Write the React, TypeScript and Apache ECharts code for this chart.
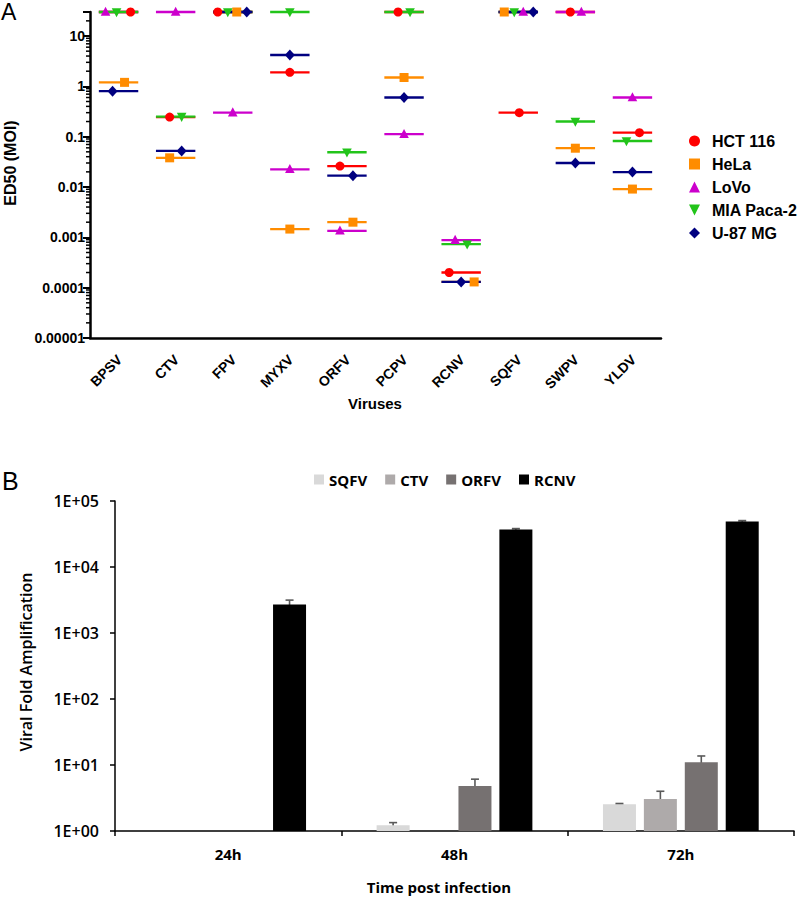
import React, { useEffect, useRef } from "react";
import * as echarts from "echarts";

// ---------- Panel A data ----------
const viruses = ["BPSV", "CTV", "FPV", "MYXV", "ORFV", "PCPV", "RCNV", "SQFV", "SWPV", "YLDV"];
const cellLines = ["HCT 116", "HeLa", "LoVo", "MIA Paca-2", "U-87 MG"];
const hct116 = [30, 0.245, 30, 1.9, 0.026, 30, 0.0002, 0.3, 30, 0.12];
const hela = [1.2, 0.038, 30, 0.00146, 0.002, 1.5, 0.00013, 30, 0.059, 0.0091];
const lovo = [30, 30, 0.3, 0.0225, 0.00135, 0.112, 0.00088, 30, 30, 0.6];
const miaPaca2 = [30, 0.25, 30, 30, 0.049, 30, 0.00073, 30, 0.2, 0.082];
const u87mg = [0.8, 0.052, 30, 4.2, 0.0168, 0.6, 0.00013, 30, 0.03, 0.0198];
const yTickLabelsA = ["0.00001", "0.0001", "0.001", "0.01", "0.1", "1", "10"];

// layout: horizontal jitter of markers (px) relative to category centre
const jitterA = [
  [12, -6, -15, 0, -7, -6, -12, 1, -5, 7],
  [6, -6, 4, 0, 6, 0, 13, -14, 0, 0],
  [-13, 0, 0, 0, -7, 0, -6, 5, 6, 0],
  [-2, 6, -5, 0, 0, 6, 6, -4, 0, -6],
  [-6, 6, 14, 0, 6, 0, 0, 15, 0, 0],
];

// ---------- Panel B data ----------
const timepoints = ["24h", "48h", "72h"];
const virusesB = ["SQFV", "CTV", "ORFV", "RCNV"];
const sqfv = [null, 1.22, 2.55];
const ctv = [null, null, 3.05];
const orfv = [null, 4.8, 11];
const rcnv = [2700, 37000, 49000];
const sqfvErr = [null, 0.12, 0.06];
const ctvErr = [null, null, 0.95];
const orfvErr = [null, 1.3, 2.7];
const rcnvErr = [450, 1200, 1500];
const yTickLabelsB = ["1E+00", "1E+01", "1E+02", "1E+03", "1E+04", "1E+05"];

const colorsA = ["#ff0000", "#ff8c00", "#cc00cc", "#22c41a", "#000080"];
const colorsB = ["#d9d9d9", "#aeaaaa", "#767171", "#000000"];
const fontA = "'Liberation Sans', Arial, sans-serif";
const fontB = "'Open Sans', sans-serif";
const BAR_W = 33;
const BAR_GAP_RATIO = 0.24;
const GRID_A = { left: 90, top: 12, width: 571, height: 326 };
const Y_MIN_A = 0.00001;
const Y_MAX_A = 30;

function markerShape(kind: number, x: number, y: number, color: string) {
  const s = 4.8;
  if (kind === 0) return { type: "circle", shape: { cx: x, cy: y, r: 4.5 }, style: { fill: color } };
  if (kind === 1) return { type: "rect", shape: { x: x - 4.5, y: y - 4.5, width: 9, height: 9 }, style: { fill: color } };
  if (kind === 2)
    return { type: "polygon", shape: { points: [[x, y - s - 0.5], [x + s, y + s - 1], [x - s, y + s - 1]] }, style: { fill: color } };
  if (kind === 3)
    return { type: "polygon", shape: { points: [[x - s, y - s + 1], [x + s, y - s + 1], [x, y + s + 0.5]] }, style: { fill: color } };
  return { type: "polygon", shape: { points: [[x, y - 5.5], [x + 5, y], [x, y + 5.5], [x - 5, y]] }, style: { fill: color } };
}

function logLabel(labels: string[], offset: number) {
  return (v: number) => {
    const e = Math.log10(v);
    const r = Math.round(e);
    if (Math.abs(e - r) > 1e-6) return "";
    return labels[r + offset] ?? "";
  };
}

export default function App() {
  const ref = useRef<HTMLDivElement>(null);
  const refLabels = useRef<HTMLDivElement>(null);
  useEffect(() => {
    document.body.style.margin = "0";
    if (!ref.current || !refLabels.current) return;
    const chart = echarts.init(ref.current, null, { renderer: "svg" });
    const seriesValuesA = [hct116, hela, lovo, miaPaca2, u87mg];
    const barValues = [sqfv, ctv, orfv, rcnv];
    const barErrs = [sqfvErr, ctvErr, orfvErr, rcnvErr];

    const minorTicks: number[][] = [];
    for (let e = -5; e <= 0; e++) {
      for (let m = 2; m <= 9; m++) minorTicks.push([0, Number((m * Math.pow(10, e)).toPrecision(3))]);
    }
    minorTicks.push([0, 20], [0, 30]);

    const lineSeries = cellLines.map((name, k) => ({
      type: "custom",
      name,
      xAxisIndex: 0,
      yAxisIndex: 0,
      clip: false,
      itemStyle: { color: colorsA[k] },
      data: viruses.map((_, i) => [i, seriesValuesA[k][i]]),
      encode: { x: 0, y: 1 },
      renderItem: (params: any, api: any) => {
        const c = api.coord([api.value(0), api.value(1)]);
        const band = params.coordSys.width / viruses.length;
        const half = band * 0.345;
        return {
          type: "line",
          shape: { x1: c[0] - half, y1: c[1], x2: c[0] + half, y2: c[1] },
          style: { stroke: colorsA[k], lineWidth: 2.3 },
        };
      },
    }));

    const markerSeries = cellLines.map((name, k) => ({
      type: "custom",
      name,
      xAxisIndex: 0,
      yAxisIndex: 0,
      clip: false,
      itemStyle: { color: colorsA[k] },
      data: viruses.map((_, i) => [i, seriesValuesA[k][i]]),
      encode: { x: 0, y: 1 },
      renderItem: (params: any, api: any) => {
        const i = api.value(0);
        const c = api.coord([i, api.value(1)]);
        return markerShape(k, c[0] + jitterA[k][i], c[1], colorsA[k]);
      },
    }));

    const minorTickSeries = {
      type: "custom",
      name: "minor",
      xAxisIndex: 0,
      yAxisIndex: 0,
      silent: true,
      clip: false,
      data: minorTicks,
      encode: { x: 0, y: 1 },
      renderItem: (params: any, api: any) => {
        const c = api.coord([0, api.value(1)]);
        const x = params.coordSys.x;
        return { type: "line", shape: { x1: x - 4, y1: c[1], x2: x, y2: c[1] }, style: { stroke: "#000", lineWidth: 1.5 } };
      },
    };

    const pitch = BAR_W * (1 + BAR_GAP_RATIO);
    const barSeries = virusesB.map((name, k) => ({
      type: "bar",
      name,
      xAxisIndex: 1,
      yAxisIndex: 1,
      barWidth: BAR_W,
      barGap: `${BAR_GAP_RATIO * 100}%`,
      itemStyle: { color: colorsB[k] },
      data: barValues[k],
    }));

    const errSeries = virusesB.map((name, k) => ({
      type: "custom",
      name: name + " err",
      xAxisIndex: 1,
      yAxisIndex: 1,
      silent: true,
      data: timepoints
        .map((_, i) => (barValues[k][i] == null ? null : [i, barValues[k][i], barErrs[k][i]]))
        .filter((d) => d !== null),
      encode: { x: 0, y: 1 },
      renderItem: (params: any, api: any) => {
        const i = api.value(0);
        const v = api.value(1);
        const err = api.value(2);
        const top = api.coord([i, v + err]);
        const bot = api.coord([i, Math.max(v - err, 1.0001)]);
        const x = top[0] + (k - 1.5) * pitch;
        const st = { stroke: "#595959", lineWidth: 1.6 };
        return {
          type: "group",
          children: [
            { type: "line", shape: { x1: x, y1: top[1], x2: x, y2: bot[1] }, style: st },
            { type: "line", shape: { x1: x - 4, y1: top[1], x2: x + 4, y2: top[1] }, style: st },
            { type: "line", shape: { x1: x - 4, y1: bot[1], x2: x + 4, y2: bot[1] }, style: st },
          ],
        };
      },
    }));

    const baseGraphic: any[] = [
      { type: "text", left: 1, top: 0, style: { text: "A", fontFamily: fontA, fontSize: 23, fill: "#000" } },
      { type: "text", left: 2, top: 468, style: { text: "B", fontFamily: fontA, fontSize: 25, fill: "#000" } },
      {
        type: "text",
        x: 10,
        y: 163,
        rotation: Math.PI / 2,
        style: { text: "ED50 (MOI)", fontFamily: fontA, fontWeight: "bold", fontSize: 16, fill: "#000", align: "center", verticalAlign: "middle" },
      },
      {
        type: "text",
        x: 375,
        y: 403,
        style: { text: "Viruses", fontFamily: fontA, fontWeight: "bold", fontSize: 15, fill: "#000", align: "center", verticalAlign: "middle" },
      },
      {
        type: "text",
        x: 26,
        y: 662,
        rotation: Math.PI / 2,
        style: { text: "Viral Fold Amplification", fontFamily: fontB, fontWeight: 600, fontSize: 16, fill: "#000", align: "center", verticalAlign: "middle" },
      },
      {
        type: "text",
        x: 439,
        y: 887,
        style: { text: "Time post infection", fontFamily: fontB, fontWeight: "bold", fontSize: 15, fill: "#000", align: "center", verticalAlign: "middle" },
      },
    ];

    const option: any = {
      animation: false,
      grid: [GRID_A, { left: 115, top: 501, width: 679, height: 330 }],
      xAxis: [
        {
          type: "category",
          gridIndex: 0,
          data: viruses,
          boundaryGap: true,
          axisLine: { lineStyle: { color: "#000", width: 2.5 } },
          axisTick: { alignWithLabel: true, length: 6, lineStyle: { color: "#000", width: 2 } },
          axisLabel: { show: false },
          splitLine: { show: false },
        },
        {
          type: "category",
          gridIndex: 1,
          data: timepoints,
          boundaryGap: true,
          axisLine: { lineStyle: { color: "#000", width: 1.5 } },
          axisTick: { show: true, length: 5, lineStyle: { color: "#000", width: 1.5 } },
          axisLabel: { color: "#000", fontFamily: fontB, fontWeight: "bold", fontSize: 15, margin: 15 },
          splitLine: { show: false },
        },
      ],
      yAxis: [
        {
          type: "log",
          gridIndex: 0,
          logBase: 10,
          min: Y_MIN_A,
          max: Y_MAX_A,
          axisLine: { show: true, lineStyle: { color: "#000", width: 2.5 } },
          axisTick: { show: true, length: 7, lineStyle: { color: "#000", width: 2 } },
          axisLabel: { formatter: logLabel(yTickLabelsA, 5), color: "#000", fontFamily: fontA, fontWeight: "bold", fontSize: 14, margin: 5 },
          splitLine: { show: false },
        },
        {
          type: "log",
          gridIndex: 1,
          logBase: 10,
          min: 1,
          max: 100000,
          axisLine: { show: true, lineStyle: { color: "#000", width: 1.5 } },
          axisTick: { show: true, length: 5, lineStyle: { color: "#000", width: 1.5 } },
          axisLabel: { formatter: logLabel(yTickLabelsB, 0), color: "#000", fontFamily: fontB, fontWeight: 600, fontSize: 16, margin: 16 },
          splitLine: { show: false },
        },
      ],
      legend: [
        {
          orient: "vertical",
          left: 684,
          top: 128,
          itemWidth: 11,
          itemHeight: 11,
          itemGap: 7,
          textStyle: { color: "#000", fontFamily: fontA, fontWeight: "bold", fontSize: 16, padding: [0, 0, 0, 7] },
          data: [
            { name: "HCT 116", icon: "circle" },
            { name: "HeLa", icon: "rect" },
            { name: "LoVo", icon: "triangle" },
            { name: "MIA Paca-2", icon: "path://M0,0L10,0L5,10Z" },
            { name: "U-87 MG", icon: "diamond" },
          ],
        },
        {
          orient: "horizontal",
          left: 309,
          top: 467,
          itemWidth: 10,
          itemHeight: 10,
          itemGap: 18,
          textStyle: { color: "#000", fontFamily: fontB, fontWeight: "bold", fontSize: 15 },
          data: virusesB.map((n) => ({ name: n, icon: "rect" })),
        },
      ],
      graphic: baseGraphic,
      series: [minorTickSeries, ...lineSeries, ...markerSeries, ...barSeries, ...errSeries],
    };
    chart.setOption(option);

    // overlay instance with the same panel-A axes, carrying the rotated category labels
    const labelsChart = echarts.init(refLabels.current, null, { renderer: "svg" });
    labelsChart.setOption({
      animation: false,
      grid: [GRID_A],
      xAxis: [{ type: "category", data: viruses, show: false }],
      yAxis: [{ type: "log", min: Y_MIN_A, max: Y_MAX_A, show: false }],
      series: [{ type: "scatter", silent: true, symbolSize: 0, itemStyle: { opacity: 0 }, data: viruses.map((_, i) => [i, Y_MIN_A]) }],
    });
    const labelGraphic = viruses.map((name, i) => {
      const p = labelsChart.convertToPixel({ xAxisIndex: 0, yAxisIndex: 0 }, [i, Y_MIN_A]) as number[];
      return {
        type: "text",
        x: p[0] + 1,
        y: p[1] + 19,
        rotation: Math.PI / 4,
        style: {
          text: name,
          fontFamily: fontA,
          fontWeight: "bold",
          fontSize: 14,
          fill: "#000",
          align: "right",
          verticalAlign: "middle",
        },
      };
    });
    labelsChart.setOption({ graphic: labelGraphic });

    return () => {
      chart.dispose();
      labelsChart.dispose();
    };
  }, []);
  return (
    <div style={{ position: "relative", width: 800, height: 900 }}>
      <div ref={ref} style={{ position: "absolute", left: 0, top: 0, width: 800, height: 900 }} />
      <div ref={refLabels} style={{ position: "absolute", left: 0, top: 0, width: 800, height: 430, pointerEvents: "none" }} />
    </div>
  );
}
